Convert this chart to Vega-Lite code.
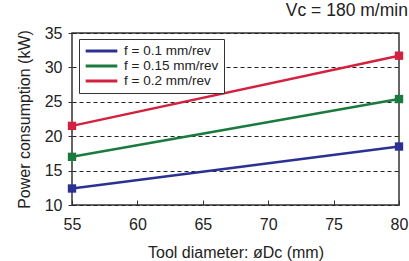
{
  "$schema": "https://vega.github.io/schema/vega-lite/v6.json",
  "autosize": {"type": "none"},
  "padding": {"left": 72, "top": 33, "right": 10, "bottom": 56},
  "width": 327,
  "height": 172,
  "background": "white",
  "title": {
    "text": "Vc = 180 m/min",
    "anchor": "end",
    "font": "Liberation Sans",
    "fontSize": 17.5,
    "fontWeight": "normal",
    "color": "#222222",
    "offset": 6
  },
  "config": {
    "font": "Liberation Sans",
    "view": {"stroke": "#333333", "strokeWidth": 1.5}
  },
  "data": {
    "values": [
      {"d": 55, "p": 12.4, "f": "f = 0.1 mm/rev"},
      {"d": 80, "p": 18.5, "f": "f = 0.1 mm/rev"},
      {"d": 55, "p": 17.0, "f": "f = 0.15 mm/rev"},
      {"d": 80, "p": 25.4, "f": "f = 0.15 mm/rev"},
      {"d": 55, "p": 21.5, "f": "f = 0.2 mm/rev"},
      {"d": 80, "p": 31.7, "f": "f = 0.2 mm/rev"}
    ]
  },
  "mark": {
    "type": "line",
    "strokeWidth": 2.5,
    "point": {"shape": "square", "size": 70, "filled": true, "opacity": 1}
  },
  "encoding": {
    "x": {
      "field": "d",
      "type": "quantitative",
      "scale": {"domain": [55, 80], "nice": false, "zero": false},
      "axis": {
        "title": "Tool diameter: øDc (mm)",
        "values": [55, 60, 65, 70, 75, 80],
        "grid": false,
        "domain": false,
        "tickSize": -5,
        "tickColor": "#333333",
        "labelPadding": 16,
        "labelFontSize": 16,
        "labelColor": "#222222",
        "titleFontSize": 16,
        "titleFontWeight": "normal",
        "titleColor": "#222222",
        "titlePadding": 12,
        "labelFlush": false
      }
    },
    "y": {
      "field": "p",
      "type": "quantitative",
      "scale": {"domain": [10, 35], "nice": false, "zero": false},
      "axis": {
        "title": "Power consumption (kW)",
        "values": [10, 15, 20, 25, 30, 35],
        "grid": true,
        "gridColor": "#222222",
        "gridDash": [4, 3],
        "gridWidth": 1,
        "domain": false,
        "tickSize": 4,
        "tickColor": "#333333",
        "labelPadding": 6,
        "labelFontSize": 16,
        "labelColor": "#222222",
        "titleFontSize": 16,
        "titleFontWeight": "normal",
        "titleColor": "#222222",
        "titlePadding": 12
      }
    },
    "color": {
      "field": "f",
      "type": "nominal",
      "scale": {
        "domain": ["f = 0.1 mm/rev", "f = 0.15 mm/rev", "f = 0.2 mm/rev"],
        "range": ["#2b3192", "#1b7a3e", "#d4213f"]
      },
      "legend": {
        "title": null,
        "orient": "none",
        "legendX": 7,
        "legendY": 6,
        "symbolType": "stroke",
        "symbolStrokeWidth": 3,
        "symbolSize": 1000,
        "clipHeight": 14,
        "labelFontSize": 13.5,
        "labelColor": "#222222",
        "labelOffset": 5,
        "rowPadding": 1,
        "strokeColor": "#333333",
        "padding": 5,
        "fillColor": "white"
      }
    }
  }
}
